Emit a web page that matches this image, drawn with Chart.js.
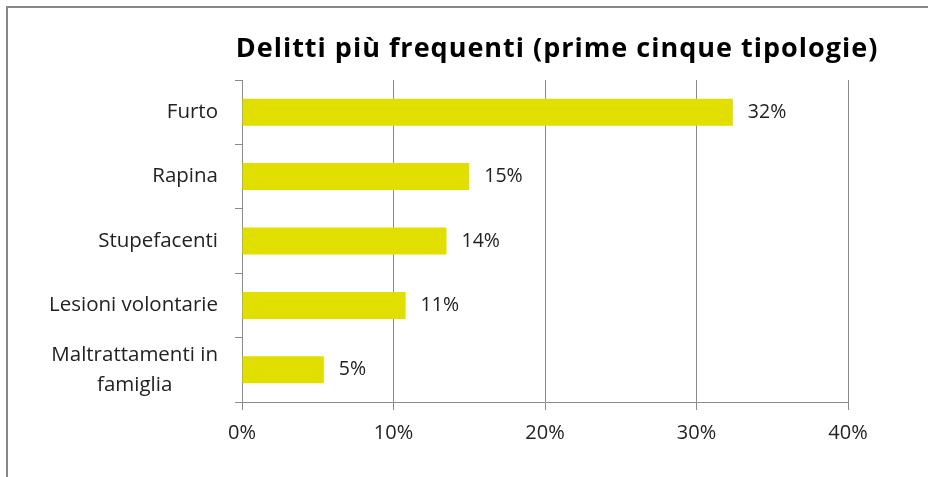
<!DOCTYPE html>
<html>
<head>
<meta charset="utf-8">
<script src="https://cdn.jsdelivr.net/npm/chart.js@4.4.1/dist/chart.umd.min.js"></script>
<style>
  body { margin: 0; background: #fff; overflow: hidden; }
  #frame { position: absolute; left: 6px; top: 6px; width: 1000px; height: 1000px;
           border-top: 2px solid #878787; border-left: 2px solid #878787; }
  #chart { position: absolute; left: 0; top: 0; }
</style>
</head>
<body>
<div id="frame"></div>
<canvas id="chart" width="928" height="477"></canvas>
<script>
// data
const chartTitle = 'Delitti più frequenti (prime cinque tipologie)';
const categories = ['Furto', 'Rapina', 'Stupefacenti', 'Lesioni volontarie', ['Maltrattamenti in', 'famiglia']];
const shares = [32.4, 15.0, 13.5, 10.8, 5.4];
const tickValues = [0, 10, 20, 30, 40];

const FONT = '"Open Sans", sans-serif';
const gridGray = '#8a8a8a';
const textColor = '#222222';

// title drawn centred where the original has it
const titlePlugin = {
    id: 'excelTitle',
    afterDraw(chart) {
        const ctx = chart.ctx;
        ctx.save();
        ctx.font = 'bold 27px ' + FONT;
        ctx.letterSpacing = '1px';
        ctx.fillStyle = '#000000';
        ctx.textAlign = 'center';
        ctx.textBaseline = 'middle';
        ctx.fillText(chartTitle, 557, 49);
        ctx.restore();
    }
};

// category labels: right aligned, wrapped ones centred on each other like Excel
const categoryLabels = {
    id: 'categoryLabels',
    afterDraw(chart) {
        const ctx = chart.ctx;
        const yScale = chart.scales.y;
        const right = yScale.right - 7 - 17;
        const lineH = 30;
        ctx.save();
        ctx.font = '20.5px ' + FONT;
        ctx.fillStyle = textColor;
        ctx.textBaseline = 'middle';
        categories.forEach((label, i) => {
            const y = yScale.getPixelForValue(i);
            const lines = Array.isArray(label) ? label : [label];
            const w = Math.max(...lines.map(l => ctx.measureText(l).width));
            const cx = right - w / 2;
            ctx.textAlign = 'center';
            lines.forEach((line, j) => {
                ctx.fillText(line, cx, y + (j - (lines.length - 1) / 2) * lineH);
            });
        });
        ctx.restore();
    }
};

// percentage labels right of each bar
const valueLabels = {
    id: 'valueLabels',
    afterDatasetsDraw(chart) {
        const ctx = chart.ctx;
        const meta = chart.getDatasetMeta(0);
        ctx.save();
        ctx.font = '19.5px ' + FONT;
        ctx.fillStyle = textColor;
        ctx.textAlign = 'left';
        ctx.textBaseline = 'middle';
        meta.data.forEach((bar, i) => {
            ctx.fillText(Math.round(shares[i]) + '%', bar.x + 15, bar.y);
        });
        ctx.restore();
    }
};

new Chart(document.getElementById('chart'), {
    type: 'bar',
    data: {
        labels: categories,
        datasets: [{
            data: shares,
            backgroundColor: '#e0df00',
            borderWidth: 0,
            barPercentage: 0.42,
            categoryPercentage: 1
        }]
    },
    options: {
        indexAxis: 'y',
        responsive: false,
        animation: false,
        layout: { padding: { top: 80, right: 80, left: 0, bottom: 0 } },
        plugins: {
            legend: { display: false },
            tooltip: { enabled: false },
            title: { display: false }
        },
        scales: {
            x: {
                min: tickValues[0],
                max: tickValues[tickValues.length - 1],
                afterBuildTicks(scale) {
                    scale.ticks = tickValues.map(v => ({ value: v }));
                },
                afterFit(scale) { scale.height = 75; },
                ticks: {
                    callback: v => v + '%',
                    font: { family: FONT, size: 20 },
                    color: textColor,
                    padding: 11,
                    maxRotation: 0
                },
                grid: { color: gridGray, tickLength: 8, lineWidth: 1 },
                border: { color: gridGray }
            },
            y: {
                afterFit(scale) { scale.width = 242; },
                ticks: { display: false },
                grid: { drawOnChartArea: false, color: gridGray, tickLength: 7, offset: true },
                border: { color: gridGray }
            }
        }
    },
    plugins: [titlePlugin, categoryLabels, valueLabels]
});
</script>
</body>
</html>
